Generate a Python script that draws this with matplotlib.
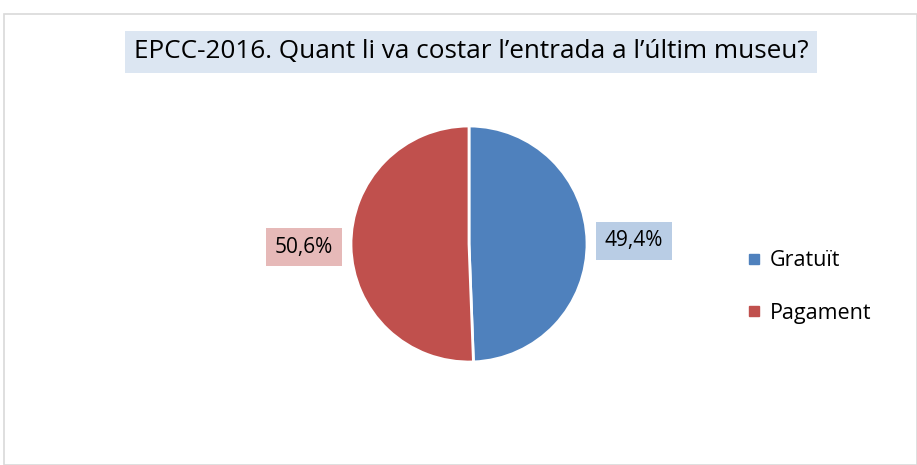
import matplotlib
matplotlib.use("Agg")
import matplotlib.pyplot as plt
from matplotlib.patches import Rectangle
from matplotlib.lines import Line2D

categories = ["Gratuït", "Pagament"]
values = [49.4, 50.6]
colors = ["#4f81bd", "#c0504d"]
label_bg = ["#b9cde5", "#e6b9b8"]
title = "EPCC-2016. Quant li va costar l\u2019entrada a l\u2019últim museu?"

W, H = 917, 465
fig = plt.figure(figsize=(W / 100, H / 100), dpi=100)
plt.rcParams['font.family'] = ['Open Sans', 'DejaVu Sans']

# chart border
fig.patches.append(Rectangle((4 / W, 0), (W - 4) / W, (H - 14) / H, transform=fig.transFigure,
                             fill=False, edgecolor="#d9d9d9", linewidth=1.2))

cx, cy, r = 469, 244, 118
ax = fig.add_axes([(cx - r) / W, (H - cy - r) / H, 2 * r / W, 2 * r / H])
wedges, texts, autotexts = ax.pie(values, colors=colors, startangle=90, counterclock=False,
                                  wedgeprops=dict(edgecolor="white", linewidth=2),
                                  autopct=lambda p: f"{p:.1f}%".replace(".", ","),
                                  pctdistance=1.40, radius=1)
for t, bg in zip(autotexts, label_bg):
    t.set_fontsize(15)
    t.set_color("#000000")
    t.set_bbox(dict(facecolor=bg, edgecolor="none", boxstyle="square,pad=0.42"))
ax.set_xlim(-1, 1)
ax.set_ylim(-1, 1)
ax.set_aspect("equal")
ax.axis("off")

fig.text(471 / W, 1 - 52 / H, title, ha="center", va="center", fontsize=18.8, color="#000000",
         bbox=dict(facecolor="#dce6f2", edgecolor="none", boxstyle="square,pad=0.33"))

handles = [Line2D([], [], marker="s", linestyle="none", markersize=7, markerfacecolor=c,
                  markeredgecolor=c) for c in colors]
fig.legend(handles, categories, loc="center left", bbox_to_anchor=(728 / W, 1 - 287 / H),
           frameon=False, fontsize=15.5, handlelength=0.6, handletextpad=0.45, labelspacing=1.45)

fig.savefig("out.png", dpi=100)
